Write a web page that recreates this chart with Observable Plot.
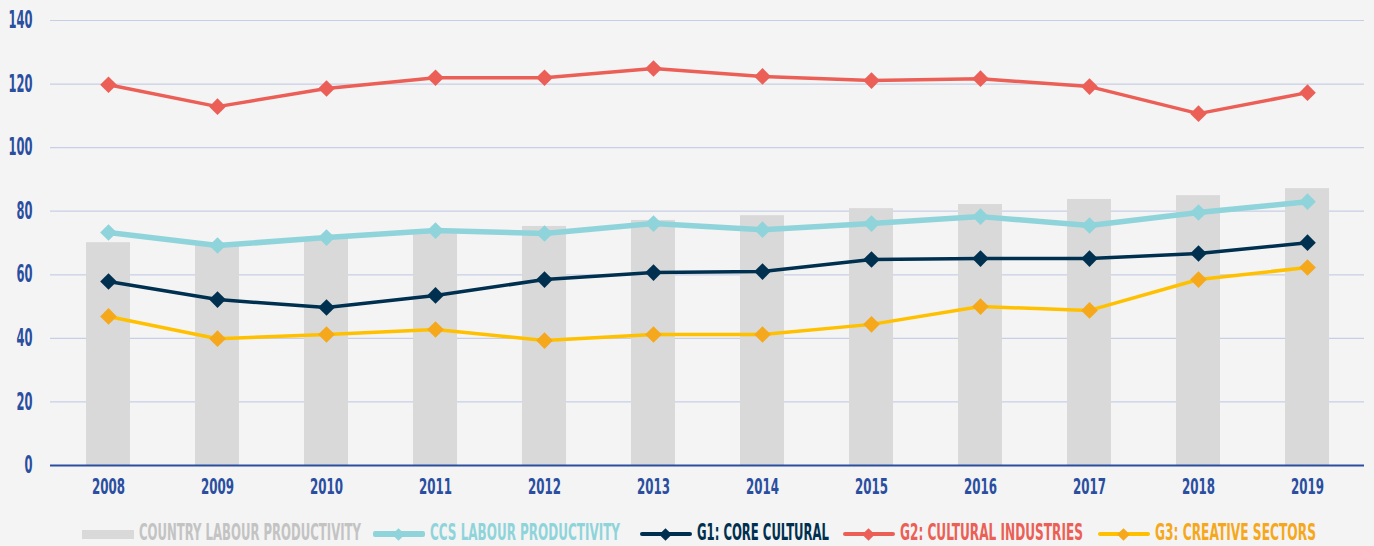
<!DOCTYPE html>
<html>
<head>
<meta charset="utf-8">
<script src="https://cdn.jsdelivr.net/npm/d3@7"></script>
<script src="https://cdn.jsdelivr.net/npm/@observablehq/plot@0.6"></script>
<style>
  html, body { margin: 0; padding: 0; background: #f4f4f4; }
  body { width: 1374px; height: 546px; overflow: hidden; font-family: "DejaVu Sans Condensed", "Liberation Sans Narrow", sans-serif; font-stretch: condensed; }
  #chart svg { display: block; }
  #legend { position: relative; height: 30px; margin-top: 17px; font-weight: bold; font-size: 23px; white-space: nowrap; }
  .item { position: absolute; top: 0; display: flex; align-items: center; height: 30px; }
  .sw { position: relative; width: 52px; height: 0; margin-right: 5px; top: 2px; }
  .sw .ln { position: absolute; left: 0; right: 0; border-radius: 2px; }
  .sw .dm { position: absolute; left: 21px; width: 9px; height: 9px; transform: rotate(45deg); top: -4.5px; }
  .tx { display: inline-block; transform-origin: left center; }
</style>
</head>
<body>
<div id="chart"></div>
<div id="legend"></div>
<script>
const years = ["2008","2009","2010","2011","2012","2013","2014","2015","2016","2017","2018","2019"];
const country = [70.1, 69.2, 71.4, 73.3, 75.2, 77.1, 78.6, 80.8, 82.1, 83.7, 84.9, 87.1];
const ccs = [73.3, 69.2, 71.7, 73.9, 73.0, 76.1, 74.2, 76.1, 78.3, 75.5, 79.6, 83.0];
const g1 = [57.9, 52.2, 49.7, 53.5, 58.5, 60.7, 61.0, 64.8, 65.1, 65.1, 66.7, 70.1];
const g2 = [119.8, 112.9, 118.6, 122.0, 122.0, 124.9, 122.4, 121.1, 121.7, 119.2, 110.7, 117.3];
const g3 = [46.9, 39.9, 41.2, 42.8, 39.3, 41.2, 41.2, 44.4, 50.0, 48.8, 58.5, 62.3];
const yTicks = [0, 20, 40, 60, 80, 100, 120, 140];
const seriesNames = ["COUNTRY LABOUR PRODUCTIVITY", "CCS LABOUR PRODUCTIVITY", "G1: CORE CULTURAL", "G2: CULTURAL INDUSTRIES", "G3: CREATIVE SECTORS"];

const styles = [
  {name: seriesNames[1], values: ccs, line: "#8fd4da", marker: "#8fd4da", text: "#8fd4da", width: 5.5},
  {name: seriesNames[2], values: g1, line: "#00304f", marker: "#00304f", text: "#00304f", width: 3.5},
  {name: seriesNames[3], values: g2, line: "#eb5f57", marker: "#eb5f57", text: "#eb5f57", width: 3.5},
  {name: seriesNames[4], values: g3, line: "#ffc000", marker: "#f5a81c", text: "#f5a81c", width: 3.5}
];

const fontStack = "'DejaVu Sans Condensed', 'Liberation Sans Narrow', sans-serif";
const bars = years.map((y, i) => ({year: y, value: country[i]}));
const marks = [
  Plot.ruleY(yTicks.filter(d => d > 0), {stroke: "#c7cfe6", strokeWidth: 1.2}),
  Plot.barY(bars, {x: "year", y: "value", fill: "#d9d9d9"}),
  Plot.ruleY([0], {stroke: "#2a4ea0", strokeWidth: 2})
];
for (const s of styles) {
  const data = years.map((y, i) => ({year: y, value: s.values[i]}));
  marks.push(Plot.line(data, {x: "year", y: "value", stroke: s.line, strokeWidth: s.width}));
  marks.push(Plot.dot(data, {x: "year", y: "value", symbol: "diamond2", r: 7.5, fill: s.marker, stroke: "none"}));
}

const chart = Plot.plot({
  width: 1374,
  height: 500,
  marginTop: 20,
  marginBottom: 35,
  marginLeft: 50,
  marginRight: 10,
  style: {background: "#f4f4f4", fontFamily: fontStack, fontStretch: "condensed"},
  x: {type: "band", domain: years, paddingInner: 0.6, paddingOuter: 0.3, label: null},
  y: {domain: [0, 140], ticks: yTicks, label: null},
  marks: [
    ...marks,
    Plot.axisX({tickSize: 0, tickPadding: 14, fontSize: 21, fontWeight: "bold", label: null}),
    Plot.axisY({ticks: yTicks, tickSize: 0, tickPadding: 18, fontSize: 24, fontWeight: "bold", label: null})
  ]
});
chart.querySelectorAll("text").forEach(t => t.setAttribute("fill", "#2a4ea0"));
document.getElementById("chart").appendChild(chart);

// condense the tick labels like the reference's narrow typeface
function condense(selector, refWidth) {
  const texts = Array.from(chart.querySelectorAll(selector));
  if (!texts.length) return;
  const widest = Math.max(...texts.map(t => t.getComputedTextLength()));
  const k = refWidth / widest;
  for (const t of texts) {
    const w = t.getComputedTextLength();
    t.setAttribute("textLength", (w * k).toFixed(1));
    t.setAttribute("lengthAdjust", "spacingAndGlyphs");
  }
}
condense('g[aria-label="y-axis tick label"] text', 24);
condense('g[aria-label="x-axis tick label"] text', 33);

// legend (positions follow the reference layout)
const legend = document.getElementById("legend");
const items = [
  {name: seriesNames[0], text: "#c3c3c3", bar: "#d9d9d9", left: 82, textW: 222},
  {...styles[0], left: 373, textW: 190},
  {...styles[1], left: 640, textW: 132},
  {...styles[2], left: 843, textW: 183},
  {...styles[3], left: 1098, textW: 161}
];
for (const it of items) {
  const el = document.createElement("div");
  el.className = "item";
  el.style.left = it.left + "px";
  const sw = document.createElement("div");
  sw.className = "sw";
  if (it.bar) {
    sw.innerHTML = `<div class="ln" style="background:${it.bar};height:9px;top:-4.5px;border-radius:0"></div>`;
  } else {
    const h = it.width;
    sw.innerHTML = `<div class="ln" style="background:${it.line};height:${h}px;top:${-h/2}px"></div><div class="dm" style="background:${it.marker}"></div>`;
  }
  const tx = document.createElement("span");
  tx.className = "tx";
  tx.textContent = it.name;
  tx.style.color = it.text;
  el.appendChild(sw);
  el.appendChild(tx);
  legend.appendChild(el);
  const w = tx.getBoundingClientRect().width;
  if (w > it.textW) tx.style.transform = `scaleX(${it.textW / w})`;
}
</script>
</body>
</html>
